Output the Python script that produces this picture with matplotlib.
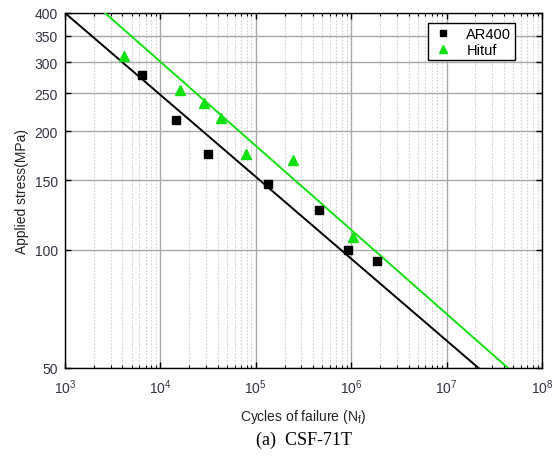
import matplotlib
matplotlib.use("Agg")
import matplotlib.pyplot as plt
from matplotlib.ticker import LogLocator, FixedLocator, FixedFormatter, NullFormatter, NullLocator

# Data
ar400_N = [6400, 14600, 31500, 134000, 460000, 925000, 1.86e6]
ar400_S = [278, 214, 175, 147, 126, 100, 93.5]
hituf_N = [4150, 16000, 28600, 43200, 78900, 245000, 1.05e6]
hituf_S = [311, 255, 236, 216, 175, 169, 107.7]
# fitted S-N lines (end points)
ar400_fit_N = [1.0e3, 2.16e7]
ar400_fit_S = [400, 50]
hituf_fit_N = [2.63e3, 4.4e7]
hituf_fit_S = [400, 50]

y_ticks = [50, 100, 150, 200, 250, 300, 350, 400]
y_ticklabels = ["50", "100", "150", "200", "250", "300", "350", "400"]

plt.rcParams['font.family'] = ['Liberation Sans', 'DejaVu Sans']
plt.rcParams['mathtext.fontset'] = 'custom'
plt.rcParams['mathtext.rm'] = 'Liberation Sans'

fig = plt.figure(figsize=(5.53, 4.60), dpi=100)
ax = fig.add_axes([65/553, 1-369/460, (542-65)/553, (369-14)/460])

green = '#11e011'
ax.plot(ar400_fit_N, ar400_fit_S, color='black', lw=1.4, zorder=3)
ax.plot(hituf_fit_N, hituf_fit_S, color=green, lw=1.4, zorder=3)
ax.plot(ar400_N, ar400_S, 's', color='black', ms=5.8, label='AR400', zorder=4)
ax.plot(hituf_N, hituf_S, '^', color=green, ms=6.8, label='Hituf', zorder=4)

ax.set_xscale('log')
ax.set_yscale('log')
ax.set_xlim(1e3, 1e8)
ax.set_ylim(50, 400)

ax.yaxis.set_major_locator(FixedLocator(y_ticks))
ax.yaxis.set_major_formatter(FixedFormatter(y_ticklabels))
ax.yaxis.set_minor_locator(NullLocator())
ax.yaxis.set_minor_formatter(NullFormatter())
ax.xaxis.set_major_locator(LogLocator(base=10, numticks=10))
ax.xaxis.set_minor_locator(LogLocator(base=10, subs=range(2, 10), numticks=100))
ax.xaxis.set_minor_formatter(NullFormatter())

ax.grid(True, which='major', axis='both', color='#a8a8a8', lw=1.0, ls='-')
ax.grid(True, which='minor', axis='x', color='#d0d0d0', lw=0.8, ls=(0, (1.5, 1.5)))
ax.set_axisbelow(True)

tc = '#333344'
ax.tick_params(which='both', direction='in', top=True, right=True, labelsize=10, colors='black', labelcolor=tc)
ax.tick_params(which='major', length=4, width=1)
ax.tick_params(which='minor', length=2.5, width=0.8)
ax.tick_params(axis='x', which='major', pad=7)
ax.tick_params(axis='y', which='major', pad=5)
for s in ax.spines.values():
    s.set_linewidth(1.0)

ax.set_ylabel('Applied stress(MPa)', fontsize=10, color='#222222', labelpad=4)
ax.set_xlabel(r'Cycles of failure (N$_\mathregular{f}$)', fontsize=10, color='#222222', labelpad=8)

leg = ax.legend(loc='upper right', fontsize=10.5, frameon=True, fancybox=False, edgecolor='black',
                framealpha=1, markerscale=0.75, handlelength=1.6, handletextpad=0.8,
                borderpad=0.25, labelspacing=0.15, borderaxespad=0)
leg.get_frame().set_linewidth(1.0)
leg.set_bbox_to_anchor((515/553, 1 - 24/460), transform=fig.transFigure)

fig.text((65+542)/2/553, 1 - 440/460, '(a)  CSF-71T', ha='center', va='center',
         fontsize=13, family=['Liberation Serif', 'DejaVu Serif'])

fig.savefig('out.png', dpi=100)
